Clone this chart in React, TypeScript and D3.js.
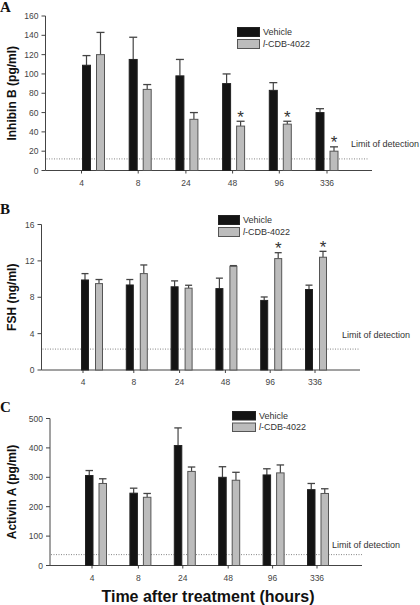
import React from "react";
import * as d3 from "d3";

const categories = ["4", "8", "24", "48", "96", "336"];

// Panel A — Inhibin B (pg/ml)
const inhibinVehicle = [109, 115, 98, 90, 83, 60];
const inhibinVehicleErr = [10, 23, 17, 10, 8, 4];
const inhibinDrug = [120, 84, 53, 46, 48, 20];
const inhibinDrugErr = [23, 5, 7, 5, 3, 4.5];
const inhibinStars = [false, false, false, true, true, true];
const inhibinTicks = [0, 20, 40, 60, 80, 100, 120, 140, 160];
const inhibinLod = 12;

// Panel B — FSH (ng/ml)
const fshVehicle = [9.9, 9.35, 9.15, 8.95, 7.65, 8.85];
const fshVehicleErr = [0.7, 0.6, 0.65, 1.15, 0.38, 0.48];
const fshDrug = [9.5, 10.6, 9.0, 11.4, 12.25, 12.4];
const fshDrugErr = [0.45, 0.95, 0.32, 0.08, 0.65, 0.65];
const fshStars = [false, false, false, false, true, true];
const fshTicks = [0, 4, 8, 12, 16];
const fshLod = 2.3;

// Panel C — Activin A (pg/ml)
const activinVehicle = [306, 246, 408, 300, 308, 258];
const activinVehicleErr = [17, 17, 60, 36, 21, 21];
const activinDrug = [279, 232, 320, 290, 315, 245];
const activinDrugErr = [16, 13, 15, 27, 27, 16];
const activinStars = [false, false, false, false, false, false];
const activinTicks = [0, 100, 200, 300, 400, 500];
const activinLod = 37;

const legendLabels = ["Vehicle", "-CDB-4022"];

const FONT = "Arial, 'Liberation Sans', Helvetica, sans-serif";
const BLACK_FILL = "#141414";
const GRAY_FILL = "#bcbcbc";

type PanelProps = {
  letter: string;
  letterY: number;
  title: string;
  vehicle: number[];
  vehicleErr: number[];
  drug: number[];
  drugErr: number[];
  stars: boolean[];
  ticks: number[];
  lod: number;
  yTop: number;
  yBottom: number;
  axisX: number;
  axisEnd: number;
  firstCenter: number;
  lastCenter: number;
  barW: number;
  gap: number;
  labelDx: number[];
  legendX: number;
  legendY: number;
  swW: number;
  swH: number;
  lodX: number;
  lodY: number;
  lodEnd: number;
};

function Panel(p: PanelProps) {
  const yMax = p.ticks[p.ticks.length - 1];
  const y = d3.scaleLinear().domain([0, yMax]).range([p.yBottom, p.yTop]);
  const x = d3.scalePoint<string>().domain(categories).range([p.firstCenter, p.lastCenter]);
  const titleX = 16;
  const titleY = (p.yTop + p.yBottom) / 2;

  const bars: React.ReactNode[] = [];
  categories.forEach((c, i) => {
    const cx = x(c)!;
    const bx0 = cx - p.gap / 2 - p.barW;
    const bx1 = cx + p.gap / 2;
    const series = [
      { x0: bx0, v: p.vehicle[i], e: p.vehicleErr[i], fill: BLACK_FILL, stroke: "#222" },
      { x0: bx1, v: p.drug[i], e: p.drugErr[i], fill: GRAY_FILL, stroke: "#555" },
    ];
    series.forEach((s, k) => {
      const top = y(s.v);
      const et = y(s.v + s.e);
      bars.push(
        <g key={`${c}-${k}`}>
          <line x1={s.x0 + p.barW / 2} x2={s.x0 + p.barW / 2} y1={top} y2={et} stroke="#444" strokeWidth={1.2} />
          <line x1={s.x0 + 0.5} x2={s.x0 + p.barW - 0.5} y1={et} y2={et} stroke="#444" strokeWidth={1.3} />
          <rect x={s.x0 + 0.5} y={top} width={p.barW - 1} height={p.yBottom - top} fill={s.fill} stroke={s.stroke} strokeWidth={1} />
        </g>
      );
    });
    if (p.stars[i]) {
      const et = y(p.drug[i] + p.drugErr[i]);
      bars.push(
        <text key={`star-${c}`} x={bx1 + p.barW / 2} y={et + 1.5} textAnchor="middle" fontSize={17} fontFamily={FONT} fill="#333">
          *
        </text>
      );
    }
  });

  return (
    <g>
      <text x={0} y={p.letterY} fontFamily="'Liberation Serif', 'Times New Roman', serif" fontWeight="bold" fontSize={15} fill="#111">
        {p.letter}
      </text>
      <text
        transform={`translate(${titleX},${titleY}) rotate(-90)`}
        textAnchor="middle"
        fontFamily={FONT}
        fontWeight="bold"
        fontSize={12}
        fill="#111"
      >
        {p.title}
      </text>
      {/* y axis */}
      <line x1={p.axisX} x2={p.axisX} y1={p.yTop} y2={p.yBottom} stroke="#444" strokeWidth={1} />
      {p.ticks.map((t) => (
        <g key={t}>
          <line x1={p.axisX - 4} x2={p.axisX} y1={y(t)} y2={y(t)} stroke="#444" strokeWidth={1} />
          <text x={p.axisX - 7} y={y(t) + 3} textAnchor="end" fontSize={8.5} fontFamily={FONT} fill="#444">
            {t}
          </text>
        </g>
      ))}
      {/* x axis */}
      <line x1={p.axisX} x2={p.axisEnd} y1={p.yBottom} y2={p.yBottom} stroke="#444" strokeWidth={1} />
      {categories.map((c, i) => (
        <g key={c}>
          <line x1={x(c)! + p.labelDx[i]} x2={x(c)! + p.labelDx[i]} y1={p.yBottom} y2={p.yBottom + 3} stroke="#444" strokeWidth={1} />
          <text x={x(c)! + p.labelDx[i]} y={p.yBottom + 15} textAnchor="middle" fontSize={8.5} fontFamily={FONT} fill="#444">
            {c}
          </text>
        </g>
      ))}
      {/* limit of detection */}
      <line x1={p.axisX + 1} x2={p.lodEnd} y1={y(p.lod)} y2={y(p.lod)} stroke="#777" strokeWidth={0.9} strokeDasharray="1,1.5" />
      <text x={p.lodX} y={p.lodY} fontSize={9} fontFamily={FONT} fill="#333">
        Limit of detection
      </text>
      {bars}
      {/* legend */}
      <rect x={p.legendX + 0.5} y={p.legendY + 0.5} width={p.swW} height={p.swH} fill={BLACK_FILL} stroke="#222" />
      <rect x={p.legendX + 0.5} y={p.legendY + p.swH + 3.5} width={p.swW} height={p.swH} fill={GRAY_FILL} stroke="#555" />
      <text x={p.legendX + p.swW + 4} y={p.legendY + p.swH / 2 + 3.5} fontSize={9} fontFamily={FONT} fill="#333">
        {legendLabels[0]}
      </text>
      <text x={p.legendX + p.swW + 4} y={p.legendY + p.swH * 1.5 + 6.5} fontSize={9} fontFamily={FONT} fill="#333">
        <tspan fontStyle="italic">l</tspan>
        {legendLabels[1]}
      </text>
    </g>
  );
}

export default function App() {
  return (
    <svg
      width={420}
      height={605}
      viewBox="0 0 420 605"
      style={{ position: "absolute", left: 0, top: 0, background: "#fff" }}
    >
      <rect width={420} height={605} fill="#fff" />
      <Panel
        letter="A"
        letterY={12}
        title="Inhibin B (pg/ml)"
        vehicle={inhibinVehicle}
        vehicleErr={inhibinVehicleErr}
        drug={inhibinDrug}
        drugErr={inhibinDrugErr}
        stars={inhibinStars}
        ticks={inhibinTicks}
        lod={inhibinLod}
        yTop={16}
        yBottom={170.5}
        axisX={45.5}
        axisEnd={372}
        firstCenter={93.5}
        lastCenter={327}
        barW={9}
        gap={5}
        labelDx={[-12, -2, -1, -1, -1, 0]}
        legendX={237}
        legendY={27}
        swW={22}
        swH={9}
        lodX={351}
        lodY={147}
        lodEnd={368}
      />
      <Panel
        letter="B"
        letterY={214}
        title="FSH (ng/ml)"
        vehicle={fshVehicle}
        vehicleErr={fshVehicleErr}
        drug={fshDrug}
        drugErr={fshDrugErr}
        stars={fshStars}
        ticks={fshTicks}
        lod={fshLod}
        yTop={224.5}
        yBottom={370}
        axisX={41.5}
        axisEnd={360}
        firstCenter={92}
        lastCenter={316}
        barW={8}
        gap={6}
        labelDx={[-9, -3, -2, -1, -1, -1]}
        legendX={218}
        legendY={215}
        swW={21}
        swH={9}
        lodX={342}
        lodY={338}
        lodEnd={360}
      />
      <Panel
        letter="C"
        letterY={412}
        title="Activin A (pg/ml)"
        vehicle={activinVehicle}
        vehicleErr={activinVehicleErr}
        drug={activinDrug}
        drugErr={activinDrugErr}
        stars={activinStars}
        ticks={activinTicks}
        lod={activinLod}
        yTop={418.5}
        yBottom={565.5}
        axisX={50}
        axisEnd={362}
        firstCenter={96}
        lastCenter={318}
        barW={8.5}
        gap={5}
        labelDx={[-4, -2, -2, -1, -1, -1]}
        legendX={232}
        legendY={411}
        swW={23}
        swH={8.5}
        lodX={332}
        lodY={548}
        lodEnd={362}
      />
      <text x={208} y={602} textAnchor="middle" fontFamily={FONT} fontWeight="bold" fontSize={16} fill="#111">
        Time after treatment (hours)
      </text>
    </svg>
  );
}
